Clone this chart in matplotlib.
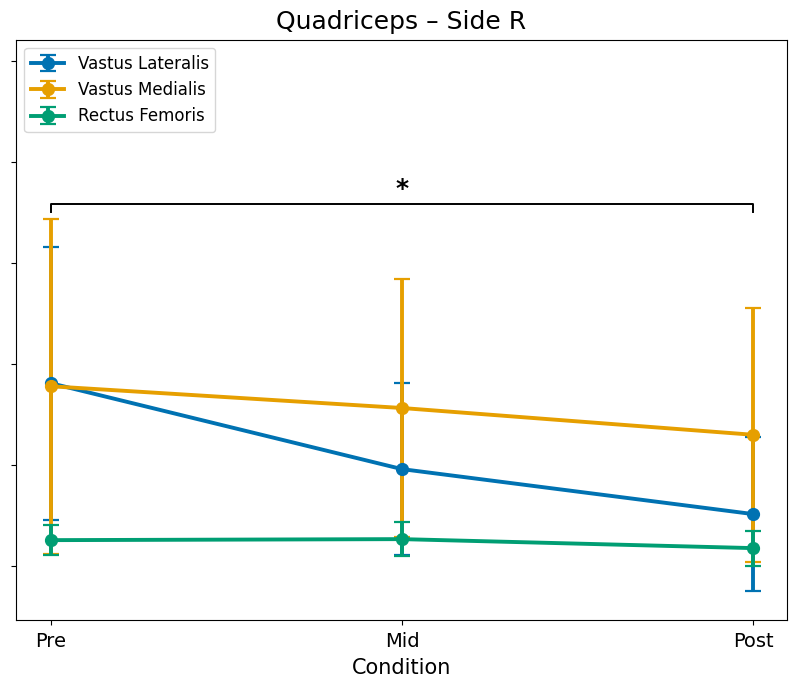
import matplotlib.pyplot as plt
import numpy as np

conditions = ["Pre", "Mid", "Post"]

vl_mean = [1.81, 0.96, 0.515]
vl_err = [1.35, 0.85, 0.76]
vm_mean = [1.78, 1.565, 1.30]
vm_err = [1.66, 1.28, 1.255]
rf_mean = [0.257, 0.267, 0.178]
rf_err = [0.149, 0.168, 0.173]

series = [
    ("Vastus Lateralis", vl_mean, vl_err, "#0072B2"),
    ("Vastus Medialis", vm_mean, vm_err, "#E69F00"),
    ("Rectus Femoris", rf_mean, rf_err, "#009E73"),
]

fig = plt.figure(figsize=(7.93, 6.86), dpi=100)
ax = fig.add_axes([0.020, 0.096, 0.9725, 0.846])

x = np.arange(len(conditions))
for name, mean, err, color in series:
    ax.errorbar(x, mean, yerr=err, label=name, color=color, marker="o",
                markersize=8.5, linewidth=2.8, elinewidth=2.8, capsize=6,
                capthick=1.6)

# significance bracket Pre vs Post
y_br, h = 3.585, 0.08
ax.plot([0, 0, 2, 2], [y_br - h, y_br, y_br, y_br - h], color="black", lw=1.4)
ax.text(1, y_br + 0.03, "*", ha="center", va="bottom", fontsize=18,
        fontweight="bold")

ax.set_xticks(x)
ax.set_xticklabels(conditions, fontsize=14)
ax.tick_params(axis="x", pad=5)
ax.set_yticks(np.arange(0, 6))
ax.set_yticklabels([])
ax.set_xlim(-0.1, 2.097)
ax.set_ylim(-0.535, 5.21)
ax.set_xlabel("Condition", fontsize=15, labelpad=5)
ax.set_title("Quadriceps \u2013 Side R", fontsize=18, pad=8)
ax.legend(loc="upper left", fontsize=12)

fig.savefig("out.png", dpi=100)
